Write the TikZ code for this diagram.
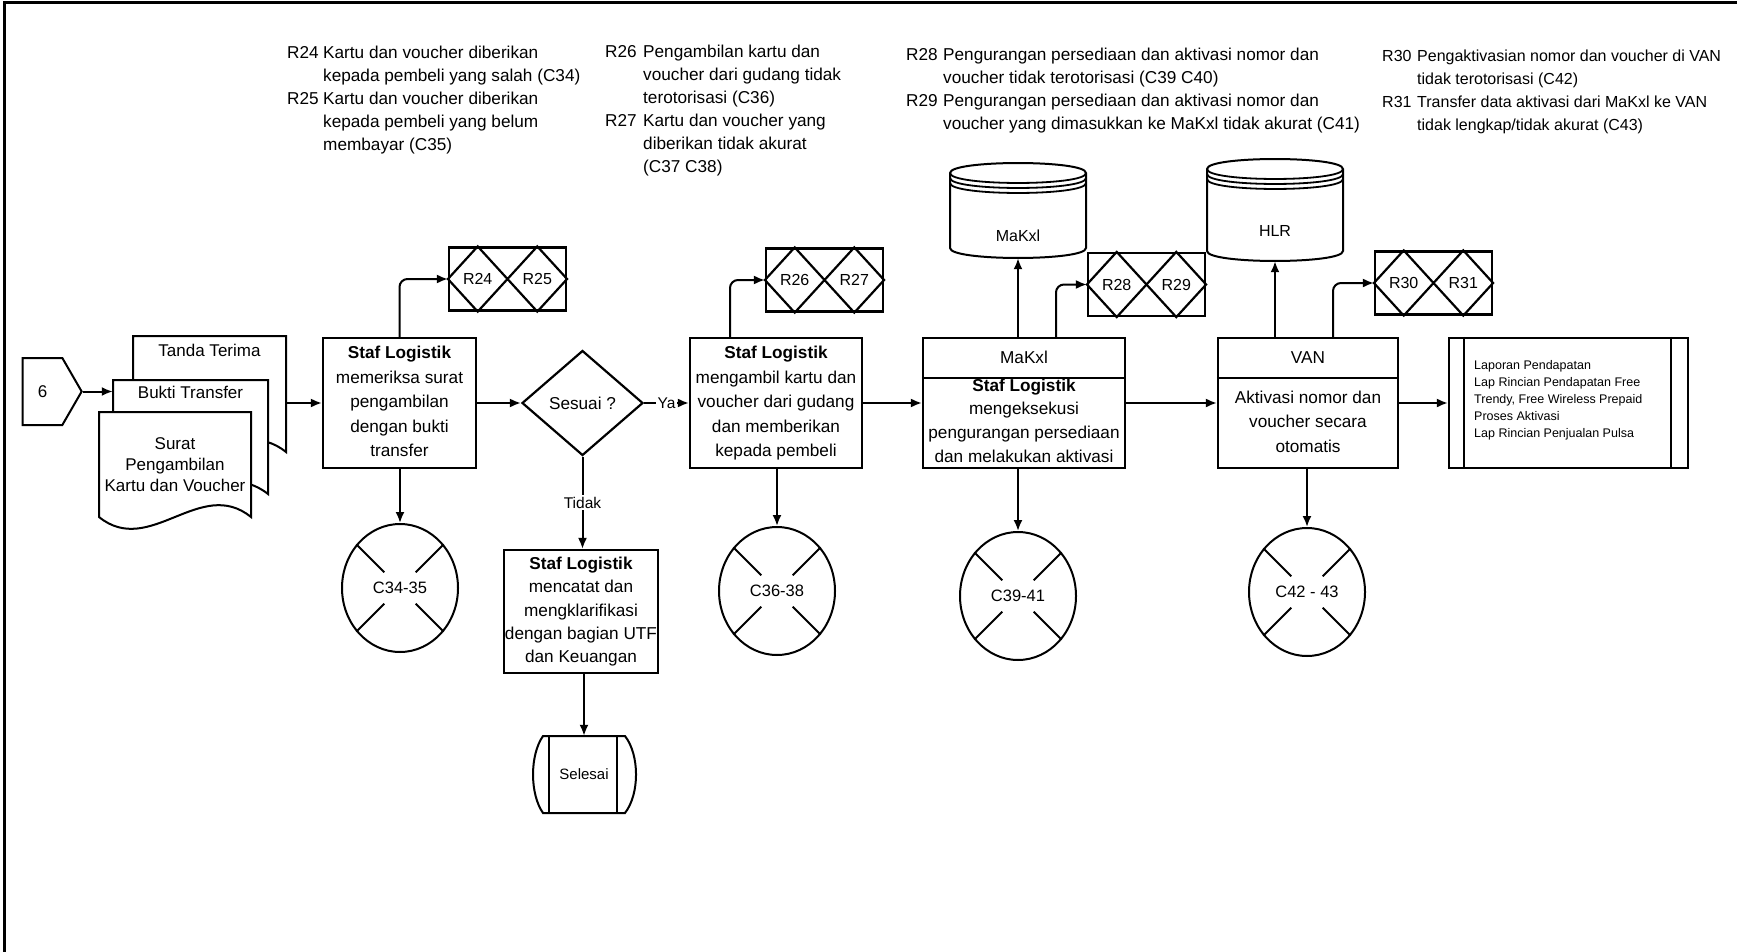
\documentclass[tikz,border=0pt]{standalone}
\usepackage{fontspec}
\setmainfont{Liberation Sans}
\usetikzlibrary{shapes.geometric,shapes.symbols,arrows.meta,calc}

\newcommand{\mlc}[1]{\begin{tabular}{@{}c@{}}#1\end{tabular}}
\newcommand{\mll}[1]{\begin{tabular}{@{}l@{}}#1\end{tabular}}

\tikzset{
 ln/.style={line width=2pt},
 box/.style={draw, line width=2.2pt, fill=white, rectangle, inner sep=0pt, align=center, font=\fontsize{17.2}{24.5}\selectfont},
 arr/.style={line width=2pt, -{Latex[length=11pt,width=9pt]}},
 rpairbox/.style={draw, line width=2.2pt, fill=white, rectangle, minimum width=117pt, minimum height=63pt, inner sep=0pt},
 rlab/.style={inner sep=0pt, font=\fontsize{16}{18}\selectfont},
 ctl/.style={draw, ellipse, line width=2pt, fill=white, minimum width=116pt, minimum height=128pt, inner sep=0pt, font=\fontsize{16.5}{20}\selectfont},
 lbl/.style={fill=white, inner sep=2pt, font=\fontsize{15.5}{18}\selectfont},
 note/.style={anchor=west, inner sep=0pt, font=\fontsize{17.2}{23}\selectfont},
 plain/.style={inner sep=0pt, font=\fontsize{17}{21}\selectfont},
}

\newcommand{\rpairdraw}[5]{%
 \node[rpairbox] (#1) at (#2,#3) {};
 \draw[line width=2.2pt] (#1.west) -- ($(#1.north west)!0.25!(#1.north east)$) -- (#1.center) -- ($(#1.north west)!0.75!(#1.north east)$) -- (#1.east) -- ($(#1.south west)!0.75!(#1.south east)$) -- (#1.center) -- ($(#1.south west)!0.25!(#1.south east)$) -- cycle;
 \node[rlab] (#1a) at ($(#1.west)!0.25!(#1.east)$) {#4};
 \node[rlab] (#1b) at ($(#1.west)!0.75!(#1.east)$) {#5};
}
\newcommand{\ctlcirc}[4]{%
 \node[ctl] (#1) at (#2,#3) {#4};
 \foreach \a in {45,135,225,315} \draw[line width=2pt] (#1.\a) -- ($(#1.center)!0.36!(#1.\a)$);
}
\newcommand{\docpath}[4]{%
 \draw[line width=2pt, fill=white] (#1,#4) -- (#1,#2) -- (#3,#2) -- (#3,#4) .. controls ({#3-(#3-#1)/3},{#4-41}) and ({#1+(#3-#1)/3},{#4+41}) .. (#1,#4) -- cycle;
}

\begin{document}
\begin{tikzpicture}[x=1pt,y=-1pt]
\useasboundingbox (0,0) rectangle (1737,952);
\fill[white] (0,0) rectangle (1737,952);

% frame
\draw[line width=3pt] (4,952) -- (4,3) -- (1737,3);

% notes
\node[note] (n2425) at (287,100) {\begin{tabular}{@{}p{36pt}@{}l@{}}R24 & Kartu dan voucher diberikan\\ & kepada pembeli yang salah (C34)\\ R25 & Kartu dan voucher diberikan\\ & kepada pembeli yang belum\\ & membayar (C35)\end{tabular}};
\node[note] (n2627) at (605,110) {\begin{tabular}{@{}p{38pt}@{}l@{}}R26 & Pengambilan kartu dan\\ & voucher dari gudang tidak\\ & terotorisasi (C36)\\ R27 & Kartu dan voucher yang\\ & diberikan tidak akurat\\ & (C37 C38)\end{tabular}};
\node[note] (n2829) at (906,90) {\begin{tabular}{@{}p{37pt}@{}l@{}}R28 & Pengurangan persediaan dan aktivasi nomor dan\\ & voucher tidak terotorisasi (C39 C40)\\ R29 & Pengurangan persediaan dan aktivasi nomor dan\\ & voucher yang dimasukkan ke MaKxl tidak akurat (C41)\end{tabular}};
\node[note, font=\fontsize{16}{23}\selectfont] (n3031) at (1382,91) {\begin{tabular}{@{}p{35pt}@{}l@{}}R30 & Pengaktivasian nomor dan voucher di VAN\\ & tidak terotorisasi (C42)\\ R31 & Transfer data aktivasi dari MaKxl ke VAN\\ & tidak lengkap/tidak akurat (C43)\end{tabular}};

% off-page connector
\node[draw, line width=2pt, signal, signal to=east, signal pointer angle=120, minimum width=59pt, minimum height=67pt, inner sep=0pt, font=\fontsize{17}{20}\selectfont] (conn) at (42.5,391.5) {6};

% documents
\docpath{133}{336}{286}{452}
\node[plain, minimum width=153pt] (docTT) at (209.5,350) {Tanda Terima};
\docpath{113}{380}{268}{494}
\node[plain, minimum width=155pt] (docBT) at (190.5,392) {Bukti Transfer};
\docpath{99}{412}{251}{517}
\node[plain, minimum width=152pt] (docSP) at (175,466) {\mlc{Surat\\Pengambilan\\Kartu dan Voucher}};

% process boxes
\node[box, minimum width=153pt, minimum height=130pt] (box1) at (399.5,403) {\mlc{\textbf{Staf Logistik}\\memeriksa surat\\pengambilan\\dengan bukti\\transfer}};
\node[draw, diamond, line width=2.2pt, fill=white, minimum width=121pt, minimum height=105pt, inner sep=0pt, font=\fontsize{17.2}{20}\selectfont] (dia) at (582.5,403) {Sesuai ?};
\node[box, minimum width=172pt, minimum height=130pt] (box2) at (776,403) {\mlc{\textbf{Staf Logistik}\\mengambil kartu dan\\voucher dari gudang\\dan memberikan\\kepada pembeli}};
\node[box, minimum width=154pt, minimum height=123pt, font=\fontsize{17.2}{23.3}\selectfont] (box3) at (581,611.5) {\mlc{\textbf{Staf Logistik}\\mencatat dan\\mengklarifikasi\\dengan bagian UTF\\dan Keuangan}};

% Selesai
\draw[line width=2pt, fill=white] (543,736) -- (625,736) .. controls (639.7,755) and (639.7,794) .. (625,813) -- (543,813) .. controls (529.7,794) and (529.7,755) .. (543,736) -- cycle;
\draw[line width=2pt] (549,736) -- (549,813) (617,736) -- (617,813);
\node[inner sep=0pt, minimum width=100pt, minimum height=77pt, font=\fontsize{15}{18}\selectfont] (selesai) at (584,774.5) {Selesai};

% MaKxl box
\node[box, minimum width=202pt, minimum height=130pt] (makxl) at (1024,403) {};
\draw[line width=2.2pt] ([yshift=-41pt]makxl.north west) -- ([yshift=-41pt]makxl.north east);
\node[inner sep=0pt, font=\fontsize{17.2}{20}\selectfont] (makhead) at ([yshift=-20.5pt]makxl.north) {MaKxl};
\begin{scope}
\clip ([yshift=-42pt,xshift=1.1pt]makxl.north west) rectangle ([yshift=1.1pt,xshift=-1.1pt]makxl.south east);
\node[inner sep=0pt, font=\fontsize{17.2}{23.7}\selectfont] (makbody) at (1024,422) {\mlc{\textbf{Staf Logistik}\\mengeksekusi\\pengurangan persediaan\\dan melakukan aktivasi}};
\end{scope}

% VAN box
\node[box, minimum width=180pt, minimum height=130pt] (van) at (1308,403) {};
\draw[line width=2.2pt] ([yshift=-41pt]van.north west) -- ([yshift=-41pt]van.north east);
\node[inner sep=0pt, font=\fontsize{17.2}{20}\selectfont] (vanhead) at ([yshift=-20.5pt]van.north) {VAN};
\node[inner sep=0pt, font=\fontsize{17.2}{24.5}\selectfont] (vanbody) at (1308,423) {\mlc{Aktivasi nomor dan\\voucher secara\\otomatis}};

% output box
\node[draw, line width=2.2pt, fill=white, minimum width=239pt, minimum height=130pt, inner sep=0pt] (outbox) at (1568.5,403) {};
\draw[line width=2pt] ([xshift=16pt]outbox.north west) -- ([xshift=16pt]outbox.south west);
\draw[line width=2pt] ([xshift=-18pt]outbox.north east) -- ([xshift=-18pt]outbox.south east);
\node[anchor=west, inner sep=0pt, font=\fontsize{12.5}{17}\selectfont] (outtext) at (1474,400) {\mll{Laporan Pendapatan\\Lap Rincian Pendapatan Free\\Trendy, Free Wireless Prepaid\\Proses Aktivasi\\Lap Rincian Penjualan Pulsa}};

% databases
\draw[line width=2pt, fill=white] (950,173) -- (950,248) .. controls (950,261.3) and (1086,261.3) .. (1086,248) -- (1086,173) .. controls (1086,159.7) and (950,159.7) .. (950,173) -- cycle;
\draw[line width=1.8pt] (950,173) .. controls (950,186.3) and (1086,186.3) .. (1086,173);
\draw[line width=1.8pt] (950,178) .. controls (950,191.3) and (1086,191.3) .. (1086,178);
\draw[line width=1.8pt] (950,183) .. controls (950,196.3) and (1086,196.3) .. (1086,183);
\node[inner sep=0pt, minimum width=136pt, minimum height=99pt] (dbmak) at (1018,208.5) {};
\node[inner sep=0pt, font=\fontsize{16}{18}\selectfont] (dbmaklbl) at (1018,236) {MaKxl};

\draw[line width=2pt, fill=white] (1207,169) -- (1207,251) .. controls (1207,264.3) and (1343,264.3) .. (1343,251) -- (1343,169) .. controls (1343,155.7) and (1207,155.7) .. (1207,169) -- cycle;
\draw[line width=1.8pt] (1207,169) .. controls (1207,182.3) and (1343,182.3) .. (1343,169);
\draw[line width=1.8pt] (1207,174) .. controls (1207,187.3) and (1343,187.3) .. (1343,174);
\draw[line width=1.8pt] (1207,179) .. controls (1207,192.3) and (1343,192.3) .. (1343,179);
\node[inner sep=0pt, minimum width=136pt, minimum height=102pt] (dbhlr) at (1275,210) {};
\node[inner sep=0pt, font=\fontsize{16}{18}\selectfont] (dbhlrlbl) at (1275,231) {HLR};

% risk pairs
\rpairdraw{rA}{507.5}{279}{R24}{R25}
\rpairdraw{rB}{824.5}{280}{R26}{R27}
\rpairdraw{rC}{1146.5}{284.5}{R28}{R29}
\rpairdraw{rD}{1433.5}{283}{R30}{R31}

% controls
\ctlcirc{cA}{400}{588}{C34-35}
\ctlcirc{cB}{777}{591}{C36-38}
\ctlcirc{cC}{1018}{596}{C39-41}
\ctlcirc{cD}{1307}{592}{C42 - 43}

% connectors
\draw[arr] (conn.east) -- (conn.east -| docBT.west);
\draw[arr] (docTT.east |- box1.west) -- (box1.west);
\draw[arr] (box1.east) -- (dia.west);
\draw[arr] (dia.east) -- node[lbl] (ya) {Ya} (box2.west);
\draw[arr] (dia.south) -- node[lbl] (tidak) {Tidak} (dia.south |- box3.north);
\draw[arr] (selesai.north |- box3.south) -- (selesai.north);
\draw[arr] (box2.east) -- (makxl.west);
\draw[arr] (makxl.east) -- (van.west);
\draw[arr] (van.east) -- (outbox.west);

\draw[arr, rounded corners=8pt] (box1.north) |- (rA.west);
\draw[arr, rounded corners=8pt] ([xshift=-46pt]box2.north) |- (rB.west);
\draw[arr, rounded corners=8pt] ([xshift=32pt]makxl.north) |- (rC.west);
\draw[arr, rounded corners=8pt] ([xshift=25pt]van.north) |- (rD.west);

\draw[arr] (dbmak.south |- makxl.north) -- (dbmak.south);
\draw[arr] (dbhlr.south |- van.north) -- (dbhlr.south);

\draw[arr] (cA.north |- box1.south) -- (cA.north);
\draw[arr] (cB.north |- box2.south) -- (cB.north);
\draw[arr] (cC.north |- makxl.south) -- (cC.north);
\draw[arr] (cD.north |- van.south) -- (cD.north);
\end{tikzpicture}
\end{document}
